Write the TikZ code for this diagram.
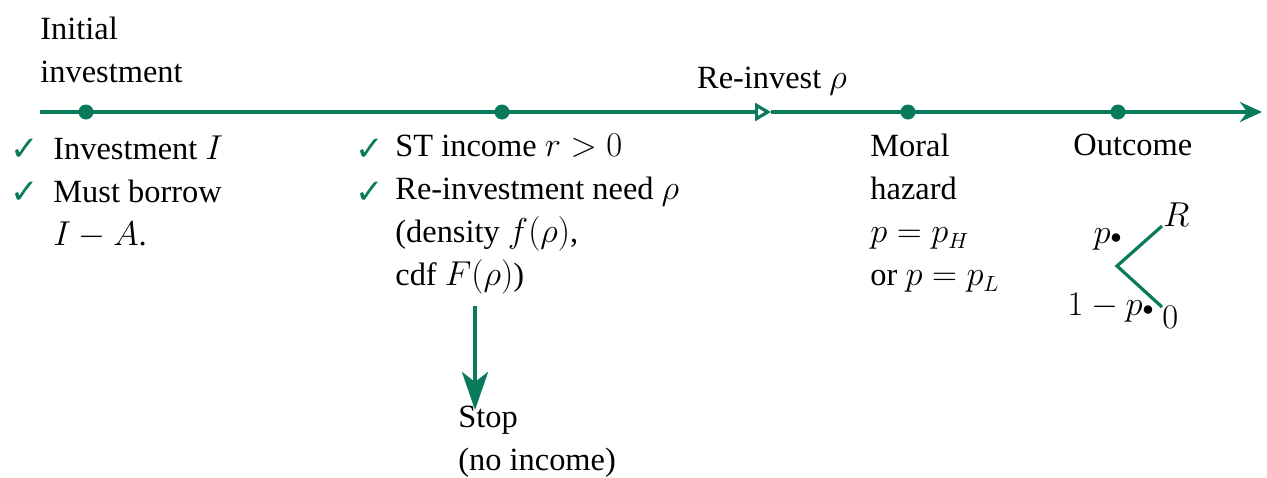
\documentclass[tikz,border=0pt]{standalone}
\usepackage[no-math]{fontspec}
\setmainfont{Liberation Serif}
\newfontfamily\symfont{DejaVu Sans}
\usepackage{xcolor}
\usepackage{tikz}
\usetikzlibrary{arrows.meta, positioning}
\definecolor{tealline}{RGB}{10,122,92}

\begin{document}
\begin{tikzpicture}[
  x=0.5pt, y=-0.5pt,
  font=\fontsize{16.2}{21.5}\selectfont,
  timeline/.style={draw=tealline, line width=2pt},
  event/.style={circle, fill=tealline, inner sep=0pt, minimum size=7.5pt},
  txt/.style={anchor=north west, align=left, inner sep=0pt},
  tick/.style={anchor=base west, inner sep=0pt, text=tealline, font=\symfont\fontsize{17}{19}\selectfont},
  branch/.style={draw=tealline, line width=1.6pt},
  arrow/.style={-{Stealth[length=19pt, width=13pt, inset=5pt]}, line width=2.4pt, tealline}
]
  \useasboundingbox (0,0) rectangle (1267,477);

  % time line
  \coordinate (start) at (40,112);
  \coordinate (reinv) at (771,112);
  \coordinate (end) at (1262,112);
  \draw[timeline, -{Triangle[open, length=8pt, width=9pt, line width=1.6pt]}] (start) -- (reinv);
  \draw[timeline, -{Stealth[length=11pt, width=10pt]}] (reinv) -- (end);

  \node[event] (t0) at (86,112) {};
  \node[event] (t1) at (502,112) {};
  \node[event] (t2) at (908,112) {};
  \node[event] (t3) at (1118,112) {};

  \node[txt] (init) at (40,17) {Initial\\investment};
  \node[txt, anchor=base] (reinvlbl) at (772,88) {Re-invest $\rho$};

  % date 0
  \node[tick] (chk1) at (10,160) {✓};
  \node[tick] (chk2) at (10,203) {✓};
  \node[txt] (inv) at (53,135) {Investment $I$\\Must borrow\\$I-A$.};

  % date 1
  \node[tick] (chk3) at (355,160) {✓};
  \node[tick] (chk4) at (355,203) {✓};
  \node[txt] (st) at (395,134) {ST income $r>0$\\Re-investment need $\rho$\\(density $f(\rho)$,\\cdf $F(\rho)$)};
  \node[txt] (stop) at (458,406) {Stop\\(no income)};
  \coordinate (stopfrom) at (475,306);
  \draw[arrow] (stopfrom) -- ([yshift=-2pt]stopfrom |- stop.north);

  % moral hazard and outcome
  \node[txt] (moral) at (870,134) {Moral\\hazard\\$p=p_H$\\or $p=p_L$};
  \node[txt] (outc) at (1073,134) {Outcome};

  \coordinate (root) at (1117,266);
  \coordinate (hi) at (1162,226);
  \coordinate (lo) at (1162,307);
  \draw[branch] (hi) -- (root) -- (lo);
  \node[txt, anchor=base west] (rlbl) at (1163,226) {$R$};
  \node[txt, anchor=base west] (zlbl) at (1162,328) {$0$};
  \node[txt, anchor=base east] (plbl) at (1122,243) {$p{\scriptstyle\bullet}$};
  \node[txt, anchor=base east] (qlbl) at (1154,315) {$1-p{\scriptstyle\bullet}$};
\end{tikzpicture}
\end{document}
